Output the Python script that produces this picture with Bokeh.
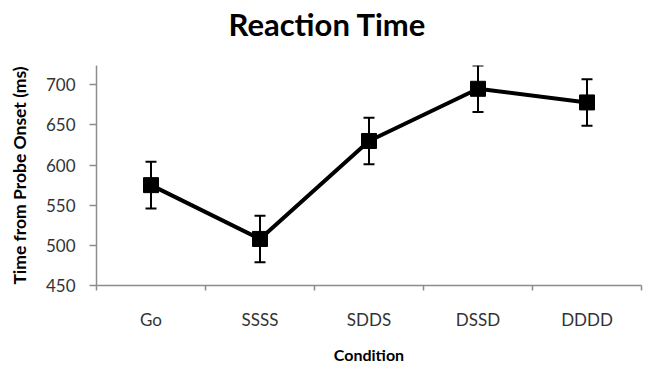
from bokeh.plotting import figure
from bokeh.models import ColumnDataSource, FixedTicker, Whisker, TeeHead, Range1d, Title
from bokeh.embed import file_html
from bokeh.resources import INLINE

categories = ["Go", "SSSS", "SDDS", "DSSD", "DDDD"]
rt_ms = [575, 508, 630, 695, 678]
err_ms = [29, 29, 29, 29, 29]
y_ticks = [450, 500, 550, 600, 650, 700]

xpos = [i + 1 for i in range(len(categories))]
upper = [v + e for v, e in zip(rt_ms, err_ms)]
lower = [v - e for v, e in zip(rt_ms, err_ms)]
src = ColumnDataSource(dict(x=xpos, y=rt_ms, upper=upper, lower=lower))

p = figure(width=648, height=366, output_backend="svg", toolbar_location=None,
           x_range=Range1d(0.5, len(categories) + 0.5), y_range=Range1d(450, 724),
           min_border_left=96, min_border_right=7, min_border_bottom=73, min_border_top=65)
p.outline_line_color = None
p.grid.visible = False
p.background_fill_color = "white"

# spacer between frame and title
p.add_layout(Title(text=" ", text_font_size="1px", standoff=20), "above")

p.title.text = "Reaction Time"
p.title.text_font = "Lato"
p.title.text_font_size = "31px"
p.title.text_font_style = "bold"
p.title.align = "left"
p.title.offset = 132
p.title.text_color = "black"
p.title.standoff = 0

axis_color = "#8c8c8c"
# x axis
p.xaxis.ticker = FixedTicker(ticks=xpos, minor_ticks=[i + 0.5 for i in range(len(categories) + 1)])
p.xaxis.major_label_overrides = {x: c for x, c in zip(xpos, categories)}
p.xaxis.major_tick_in = 0
p.xaxis.major_tick_out = 0
p.xaxis.minor_tick_in = 0
p.xaxis.minor_tick_out = 5
p.xaxis.minor_tick_line_color = axis_color
p.xaxis.minor_tick_line_width = 1.5
p.xaxis.axis_line_color = axis_color
p.xaxis.axis_line_width = 1.5
p.xaxis.major_label_standoff = 18
p.xaxis.axis_label = "Condition"
p.xaxis.axis_label_standoff = 12

# y axis
p.yaxis.ticker = FixedTicker(ticks=y_ticks, minor_ticks=[])
p.yaxis.major_tick_in = 0
p.yaxis.major_tick_out = 7
p.yaxis.major_tick_line_color = axis_color
p.yaxis.major_tick_line_width = 1.5
p.yaxis.axis_line_color = axis_color
p.yaxis.axis_line_width = 1.5
p.yaxis.major_label_standoff = 14
p.yaxis.axis_label = "Time from Probe Onset (ms)"
p.yaxis.axis_label_standoff = 13

for ax in (p.xaxis, p.yaxis):
    ax.major_label_text_font = "Lato"
    ax.major_label_text_font_size = "17px"
    ax.major_label_text_color = "#333333"
    ax.axis_label_text_font = "Lato"
    ax.axis_label_text_font_style = "bold"
    ax.axis_label_text_color = "black"
p.xaxis.axis_label_text_font_size = "16px"
p.yaxis.axis_label_text_font_size = "17.5px"

p.line("x", "y", source=src, line_color="black", line_width=4)
w = Whisker(base="x", upper="upper", lower="lower", source=src,
            line_color="black", line_width=2,
            upper_head=TeeHead(size=11, line_color="black", line_width=2),
            lower_head=TeeHead(size=11, line_color="black", line_width=2))
p.add_layout(w)
p.scatter("x", "y", source=src, marker="square", size=15, color="black")

open("out.html", "w").write(file_html(p, INLINE))
